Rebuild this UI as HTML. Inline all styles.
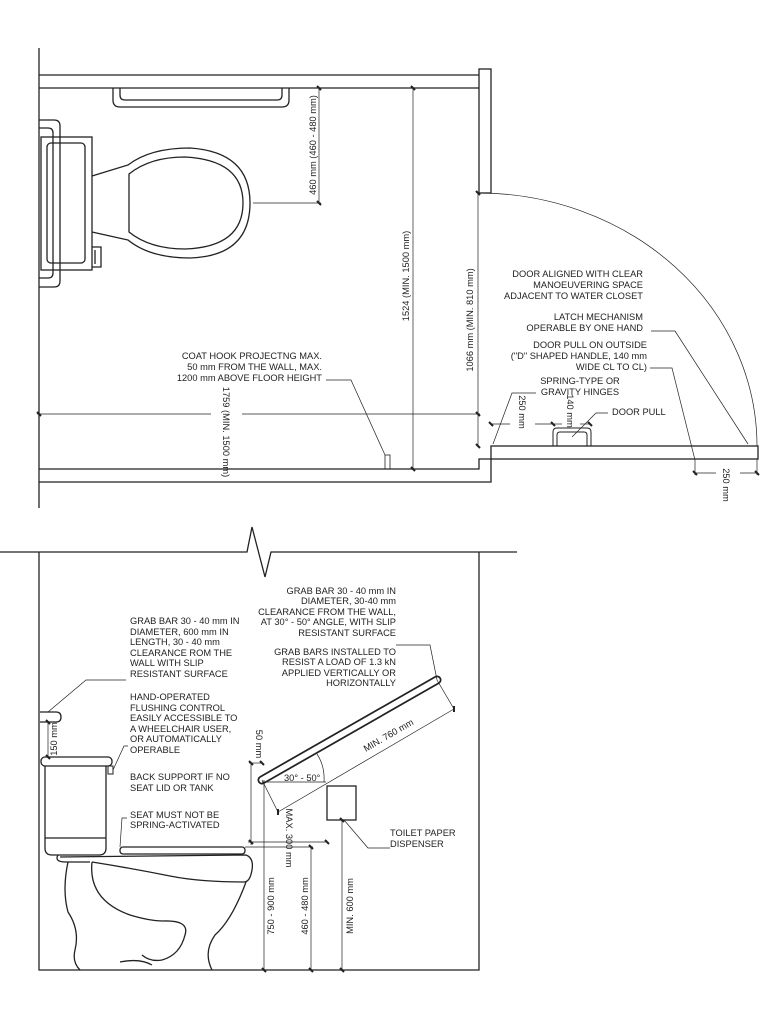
<!DOCTYPE html>
<html><head><meta charset="utf-8"><style>
html,body{margin:0;padding:0;background:#fff;}
svg{display:block;}
text{font-family:"Liberation Sans",sans-serif;font-size:9.3px;fill:#222;}
</style></head><body>
<svg width="767" height="1024" viewBox="0 0 767 1024" xmlns="http://www.w3.org/2000/svg">
<g fill="none" stroke="#222" stroke-width="1.3">
<!-- PLAN -->
<line x1="39" y1="48" x2="39" y2="508"/>
<polyline points="39,75 479,75"/>
<polyline points="39,88 479,88"/>
<rect x="479" y="69" width="12" height="124"/>
<polyline points="39,469 479,469 479,459 491,459 491,482 39,482"/>
<rect x="491" y="446" width="267" height="13"/>
<path d="M113,88 V100 Q113,107 120,107 H282 Q289,107 289,100 V88"/>
<path d="M120,88 V95 Q120,100 125,100 H277 Q282,100 282,95 V88"/>
<!-- toilet plan -->
<path d="M39,120 H54 Q60,120 60,126 V281 Q60,287 54,287 H39"/>
<path d="M39,128 H48 Q53,128 53,133 V273 Q53,278 48,278 H39"/>
<rect x="41" y="137" width="51" height="133"/>
<rect x="47" y="143" width="38" height="120" rx="4"/>
<path d="M92,247 H101 V267 H92 M95,250 V264"/>
<path d="M92,176 L128,165 Q150,148 190,148 Q250,152 250,203 Q250,256 190,258 Q150,258 128,240 L92,232"/>
<path d="M129,174 Q150,157 185,157 Q243,160 243,203 Q243,247 185,249 Q150,249 129,232 Z"/>
<!-- plan dims -->
<g stroke-width="0.7">
<line x1="319" y1="88" x2="319" y2="203"/>
<line x1="253" y1="203" x2="321" y2="203"/>
<line x1="413" y1="88" x2="413" y2="469"/>
<line x1="478" y1="193" x2="478" y2="446"/>
<line x1="37" y1="414" x2="211" y2="414"/>
<line x1="242" y1="414" x2="480" y2="414"/>
<polyline points="326,380 351,380 385,455"/>
<path d="M479,193 A279 253 0 0 1 757,446"/>
<polyline points="651,331 675,331 748,444"/>
<polyline points="650,368 672,368 695,460 695,475"/>
<polyline points="536,393 512,393 493,444"/>
<polyline points="608,413 596,413 572,437"/>
<line x1="491" y1="424" x2="510" y2="424"/><line x1="535" y1="424" x2="553" y2="424"/>
<line x1="553" y1="424" x2="562" y2="424"/><line x1="580" y1="424" x2="590" y2="424"/>
<line x1="695" y1="473" x2="716" y2="473"/><line x1="740" y1="473" x2="757" y2="473"/>
<line x1="757" y1="459" x2="757" y2="475"/>
</g>
<path d="M553,446 V432 Q553,428 557,428 H587 Q591,428 591,432 V446 M557,446 V435 Q557,432 560,432 H584 Q587,432 587,435 V446" stroke-width="1"/>
<rect x="385" y="455" width="5" height="14" stroke-width="0.8"/>
<g stroke-width="2">
<line x1="317" y1="86" x2="321" y2="90"/><line x1="317" y1="201" x2="321" y2="205"/>
<line x1="411" y1="86" x2="415" y2="90"/><line x1="411" y1="467" x2="415" y2="471"/>
<line x1="37" y1="412" x2="41" y2="416"/><line x1="476" y1="412" x2="480" y2="416"/>
<line x1="476" y1="444" x2="480" y2="448"/><line x1="476" y1="191" x2="480" y2="195"/>
<line x1="489" y1="422" x2="493" y2="426"/><line x1="551" y1="422" x2="555" y2="426"/><line x1="588" y1="422" x2="592" y2="426"/>
<line x1="693" y1="471" x2="697" y2="475"/><line x1="755" y1="471" x2="759" y2="475"/>
</g>
<!-- ELEVATION -->
<polyline points="0,552 247,552 252,527 265,577 271,552 517,552"/>
<polyline points="39,552 39,970 479,970 479,552"/>
<rect x="41" y="757" width="71" height="9" rx="4"/>
<path d="M45,766 V848 Q45,855 52,855 H99 Q106,855 106,848 V766"/>
<line x1="45" y1="838" x2="106" y2="838"/>
<rect x="108" y="766" width="5" height="8" stroke-width="1"/>
<path d="M40,712 H56 Q61,712 61,717 Q61,722 56,722 H40"/>
<rect x="120" y="847" width="125" height="7" rx="3"/>
<path d="M58,855 Q54,862 66,862 L90,862 M60,857 L246,855 Q254,858 252,870 Q250,882 244,882 Q200,882 170,876 Q130,868 92,862"/>
<path d="M68,862 Q62,890 68,912 Q80,930 75,950 Q72,962 80,970"/>
<path d="M92,862 Q88,900 130,915 Q150,921 163,921"/>
<path d="M246,882 Q232,920 215,935 Q203,952 212,970"/>
<path d="M163,921 Q190,920 185,935 Q180,955 162,960 Q150,962 142,955 M120,962 Q140,958 152,965"/>
<path d="M262,780 L437,680" stroke-width="9" stroke-linecap="round"/>
<path d="M262,780 L437,680" stroke="#fff" stroke-width="5.5" stroke-linecap="round"/>
<rect x="327" y="786" width="29" height="34"/>
<g stroke-width="0.7">
<line x1="251" y1="763" x2="251" y2="845"/>
<line x1="249" y1="763" x2="262" y2="763"/>
<line x1="248" y1="842" x2="328" y2="842"/>
<line x1="264" y1="780" x2="264" y2="970"/>
<line x1="311" y1="847" x2="311" y2="970"/>
<line x1="245" y1="847" x2="313" y2="847"/>
<line x1="342" y1="820" x2="342" y2="970"/>
<line x1="262" y1="782" x2="326" y2="782"/>
<path d="M317,754 Q325,766 324,782"/>
<line x1="278" y1="812" x2="454" y2="709"/>
<line x1="262" y1="780" x2="278" y2="812"/>
<line x1="437" y1="680" x2="454" y2="709"/>
<line x1="48" y1="722" x2="48" y2="757"/>
<polyline points="396,645 430,645 437,680"/>
<polyline points="126,680 86,680 48,712"/>
<polyline points="128,746 124,746 113,770"/>
<polyline points="127,818 122,818 120,847"/>
<polyline points="390,848 368,848 344,820"/>
</g>
<g stroke-width="2">
<line x1="249" y1="761" x2="253" y2="765"/><line x1="260" y1="761" x2="264" y2="765"/>
<line x1="249" y1="840" x2="253" y2="844"/><line x1="325" y1="840" x2="329" y2="844"/>
<line x1="262" y1="968" x2="266" y2="972"/><line x1="309" y1="968" x2="313" y2="972"/><line x1="340" y1="968" x2="344" y2="972"/>
<line x1="309" y1="845" x2="313" y2="849"/><line x1="340" y1="818" x2="344" y2="822"/>
<line x1="454" y1="706" x2="454" y2="712"/><line x1="278" y1="809" x2="278" y2="815"/>
<line x1="46" y1="720" x2="50" y2="724"/><line x1="46" y1="755" x2="50" y2="759"/>
</g>
</g>
<!-- PLAN TEXT -->
<text transform="translate(316,145) rotate(-90)" text-anchor="middle">460 mm (460 - 480 mm)</text>
<text transform="translate(409,276) rotate(-90)" text-anchor="middle">1524 (MIN. 1500 mm)</text>
<text transform="translate(473,320) rotate(-90)" text-anchor="middle">1066 mm (MIN. 810 mm)</text>
<text transform="translate(223,432) rotate(90)" text-anchor="middle">1759 (MIN. 1500 mm)</text>
<g text-anchor="end">
<text x="322" y="359">COAT HOOK PROJECTNG MAX.</text>
<text x="322" y="370">50 mm FROM THE WALL, MAX.</text>
<text x="322" y="381">1200 mm ABOVE FLOOR HEIGHT</text>
<text x="643" y="277">DOOR ALIGNED WITH CLEAR</text>
<text x="643" y="288">MANOEUVERING SPACE</text>
<text x="643" y="299">ADJACENT TO WATER CLOSET</text>
<text x="643" y="320">LATCH MECHANISM</text>
<text x="643" y="331">OPERABLE BY ONE HAND</text>
<text x="647" y="348">DOOR PULL ON OUTSIDE</text>
<text x="647" y="359">("D" SHAPED HANDLE, 140 mm</text>
<text x="647" y="370">WIDE CL TO CL)</text>
</g>
<text x="580" y="384" text-anchor="middle">SPRING-TYPE OR</text>
<text x="580" y="395" text-anchor="middle">GRAVITY HINGES</text>
<text x="612" y="415">DOOR PULL</text>
<text transform="translate(519,412) rotate(90)" text-anchor="middle">250 mm</text>
<text transform="translate(567,411) rotate(90)" text-anchor="middle">140 mm</text>
<text transform="translate(723,485) rotate(90)" text-anchor="middle">250 mm</text>
<!-- ELEVATION TEXT -->
<g>
<text x="130" y="624">GRAB BAR 30 - 40 mm IN</text>
<text x="130" y="635">DIAMETER, 600 mm IN</text>
<text x="130" y="645">LENGTH, 30 - 40 mm</text>
<text x="130" y="656">CLEARANCE ROM THE</text>
<text x="130" y="666">WALL WITH SLIP</text>
<text x="130" y="677">RESISTANT SURFACE</text>
<text x="130" y="700">HAND-OPERATED</text>
<text x="130" y="711">FLUSHING CONTROL</text>
<text x="130" y="721">EASILY ACCESSIBLE TO</text>
<text x="130" y="732">A WHEELCHAIR USER,</text>
<text x="130" y="742">OR AUTOMATICALLY</text>
<text x="130" y="753">OPERABLE</text>
<text x="130" y="780">BACK SUPPORT IF NO</text>
<text x="130" y="791">SEAT LID OR TANK</text>
<text x="130" y="818">SEAT MUST NOT BE</text>
<text x="130" y="828">SPRING-ACTIVATED</text>
<text x="390" y="836">TOILET PAPER</text>
<text x="390" y="847">DISPENSER</text>
</g>
<g text-anchor="end">
<text x="396" y="594">GRAB BAR 30 - 40 mm IN</text>
<text x="396" y="604">DIAMETER, 30-40 mm</text>
<text x="396" y="615">CLEARANCE FROM THE WALL,</text>
<text x="396" y="625">AT 30° - 50° ANGLE, WITH SLIP</text>
<text x="396" y="636">RESISTANT SURFACE</text>
<text x="396" y="655">GRAB BARS INSTALLED TO</text>
<text x="396" y="665">RESIST A LOAD OF 1.3 kN</text>
<text x="396" y="676">APPLIED VERTICALLY OR</text>
<text x="396" y="686">HORIZONTALLY</text>
</g>
<text x="284" y="781">30° - 50°</text>
<text transform="translate(390,738) rotate(-30)" text-anchor="middle">MIN. 760 mm</text>
<text transform="translate(286,838) rotate(90)" text-anchor="middle">MAX. 300 mm</text>
<text transform="translate(256,744) rotate(90)" text-anchor="middle">50 mm</text>
<text transform="translate(57,739) rotate(-90)" text-anchor="middle">150 mm</text>
<text transform="translate(274,906) rotate(-90)" text-anchor="middle">750 - 900 mm</text>
<text transform="translate(308,906) rotate(-90)" text-anchor="middle">460 - 480 mm</text>
<text transform="translate(353,906) rotate(-90)" text-anchor="middle">MIN. 600 mm</text>
</svg>
</body></html>
